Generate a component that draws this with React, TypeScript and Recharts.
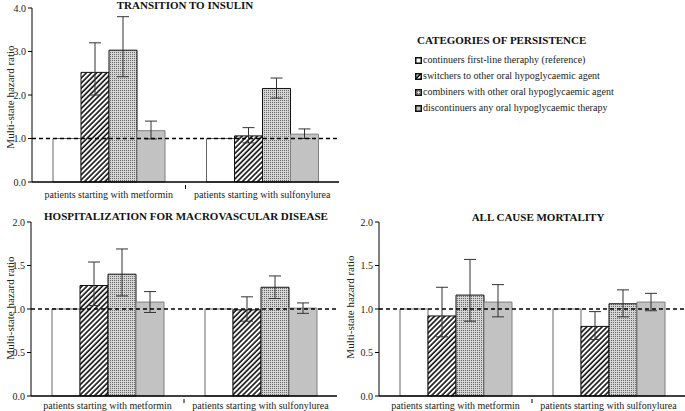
import React from 'react'
import { Bar, BarChart, ErrorBar, ReferenceLine, XAxis, YAxis } from 'recharts'

const groups = ['patients starting with metformin', 'patients starting with sulfonylurea']
const persistence = [
  'continuers first-line theraphy (reference)',
  'switchers to other oral hypoglycaemic agent',
  'combiners with other oral hypoglycaemic agent',
  'discontinuers any oral hypoglycaemic therapy',
]
const seriesKeys = ['cont', 'switch', 'comb', 'disc']

// hazard ratios per group (rows), in legend order (columns)
const insulinHR = [[1, 2.52, 3.03, 1.18], [1, 1.06, 2.15, 1.1]]
const insulinLow = [[1, 2.0, 2.42, 0.99], [1, 0.9, 1.93, 1.0]]
const insulinHigh = [[1, 3.2, 3.8, 1.4], [1, 1.25, 2.39, 1.22]]

const macroHR = [[1, 1.27, 1.4, 1.08], [1, 0.99, 1.25, 1.01]]
const macroLow = [[1, 1.04, 1.15, 0.96], [1, 0.86, 1.12, 0.95]]
const macroHigh = [[1, 1.54, 1.69, 1.2], [1, 1.14, 1.38, 1.07]]

const mortalityHR = [[1, 0.92, 1.16, 1.08], [1, 0.8, 1.06, 1.08]]
const mortalityLow = [[1, 0.68, 0.86, 0.91], [1, 0.65, 0.91, 0.98]]
const mortalityHigh = [[1, 1.25, 1.57, 1.28], [1, 0.97, 1.22, 1.18]]

const ticksInsulin = [0, 1, 2, 3, 4]
const ticksHalf = [0, 0.5, 1, 1.5, 2]

const serif = "'Liberation Serif', Tinos, 'Times New Roman', 'DejaVu Serif', serif"
const fills = ['#ffffff', 'url(#hatch)', 'url(#dots)', '#c2c2c2']
const strokes = ['#666666', '#111111', '#111111', '#808080']

const buildRows = (hr: number[][], lo: number[][], hi: number[][]) =>
  groups.map((g, i) => {
    const row: any = { group: g }
    seriesKeys.forEach((k, j) => {
      row[k] = hr[i][j]
      row[k + 'Err'] = [hr[i][j] - lo[i][j], hi[i][j] - hr[i][j]]
    })
    return row
  })

function GroupTick(props: any) {
  const { x, y, payload, index, width, labelDy } = props
  // small divider tick between the two groups
  const half = width ? width / (2 * groups.length) : 0
  return (
    <g>
      <text x={x} y={y} dy={labelDy} textAnchor="middle" fontSize={10} fill="#222" fontFamily={serif}>
        {payload.value}
      </text>
      {index === 0 && half ? (
        <line x1={x + half} x2={x + half} y1={y - 4} y2={y} stroke="#000" strokeWidth={1} />
      ) : null}
    </g>
  )
}

interface PanelProps {
  rows: any[]
  ticks: number[]
  width: number
  axisWidth: number
  right: number
  labelDy: number
}

function Panel({ rows, ticks, width, axisWidth, right, labelDy }: PanelProps) {
  return (
    <BarChart
      width={width}
      height={205}
      data={rows}
      margin={{ top: 8, right, bottom: 5, left: 0 }}
      barSize={28}
      barGap={0}
    >
      <XAxis
        dataKey="group"
        interval={0}
        height={18}
        tickLine={false}
        tickSize={4}
        tickMargin={3}
        axisLine={{ stroke: '#000', strokeWidth: 1.5 }}
        tick={(p: any) => <GroupTick {...p} labelDy={labelDy} />}
      />
      <YAxis
        width={axisWidth}
        domain={[0, ticks[ticks.length - 1]]}
        ticks={ticks}
        tickFormatter={(v: number) => v.toFixed(1)}
        tickSize={4}
        tickMargin={2}
        axisLine={{ stroke: '#000' }}
        tickLine={{ stroke: '#000' }}
        tick={{ fontSize: 10, fill: '#222', fontFamily: serif }}
      />
      {seriesKeys.map((k, j) => (
        <Bar key={k} dataKey={k} fill={fills[j]} stroke={strokes[j]} strokeWidth={1} isAnimationActive={false}>
          {j > 0 ? (
            <ErrorBar dataKey={k + 'Err'} width={6} stroke="#333" strokeWidth={1} direction="y" isAnimationActive={false} />
          ) : null}
        </Bar>
      ))}
      <ReferenceLine y={1} stroke="#000" strokeWidth={1.5} strokeDasharray="4 3" />
    </BarChart>
  )
}

function YTitle({ cx, cy }: { cx: number, cy: number }) {
  return (
    <div
      style={{
        position: 'absolute', left: cx - 70, top: cy - 6, width: 140, textAlign: 'center',
        fontSize: 11, lineHeight: '12px', color: '#222', transform: 'rotate(-90deg)', whiteSpace: 'nowrap',
      }}
    >
      Multi-state hazard ratio
    </div>
  )
}

function Title({ cx, top, text }: { cx: number, top: number, text: string }) {
  return (
    <div
      style={{
        position: 'absolute', left: cx - 200, top, width: 400, textAlign: 'center',
        fontSize: 11, lineHeight: '11px', fontWeight: 'bold', color: '#111', whiteSpace: 'nowrap',
      }}
    >
      {text}
    </div>
  )
}

export default function App() {
  return (
    <div style={{ position: 'relative', width: 685, height: 411, background: '#fff', fontFamily: serif, overflow: 'hidden' }}>
      <style>{'body{margin:0}'}</style>
      <svg width={0} height={0} style={{ position: 'absolute' }}>
        <defs>
          <pattern id="hatch" patternUnits="userSpaceOnUse" width={3.6} height={3.6} patternTransform="rotate(45)">
            <rect width={3.6} height={3.6} fill="#fff" />
            <line x1={1} y1={0} x2={1} y2={3.6} stroke="#111" strokeWidth={1.6} />
          </pattern>
          <pattern id="dots" patternUnits="userSpaceOnUse" width={2} height={2}>
            <rect width={2} height={2} fill="#d4d4d4" />
            <rect width={1} height={1} fill="#6a6a6a" />
          </pattern>
        </defs>
      </svg>

      <div style={{ position: 'absolute', left: 0, top: 0 }}>
        <Panel rows={buildRows(insulinHR, insulinLow, insulinHigh)} ticks={ticksInsulin} width={345} axisWidth={32} right={6} labelDy={9} />
      </div>
      <div style={{ position: 'absolute', left: 0, top: 214 }}>
        <Panel rows={buildRows(macroHR, macroLow, macroHigh)} ticks={ticksHalf} width={343} axisWidth={31} right={6} labelDy={5.5} />
      </div>
      <div style={{ position: 'absolute', left: 347, top: 214 }}>
        <Panel rows={buildRows(mortalityHR, mortalityLow, mortalityHigh)} ticks={ticksHalf} width={338} axisWidth={32} right={0} labelDy={5.5} />
      </div>

      <Title cx={185} top={0} text="TRANSITION TO INSULIN" />
      <Title cx={186} top={210.5} text="HOSPITALIZATION FOR MACROVASCULAR DISEASE" />
      <Title cx={538} top={211.5} text="ALL CAUSE MORTALITY" />
      <YTitle cx={10} cy={97} />
      <YTitle cx={10} cy={308} />
      <YTitle cx={350} cy={307} />

      <div style={{ position: 'absolute', left: 417, top: 34.5, fontSize: 11, lineHeight: '11px', fontWeight: 'bold', color: '#111' }}>
        CATEGORIES OF PERSISTENCE
      </div>
      {persistence.map((name, j) => (
        <div
          key={name}
          style={{ position: 'absolute', left: 415, top: 51.5 + j * 16.2, height: 16, lineHeight: '16px', fontSize: 10, color: '#222', whiteSpace: 'nowrap' }}
        >
          <svg width={7} height={7} style={{ position: 'absolute', left: 0, top: 5 }}>
            <rect x={0.75} y={0.75} width={5.5} height={5.5} fill={fills[j]} stroke="#111" strokeWidth={1.5} />
          </svg>
          <span style={{ position: 'absolute', left: 8 }}>{name}</span>
        </div>
      ))}
    </div>
  )
}
